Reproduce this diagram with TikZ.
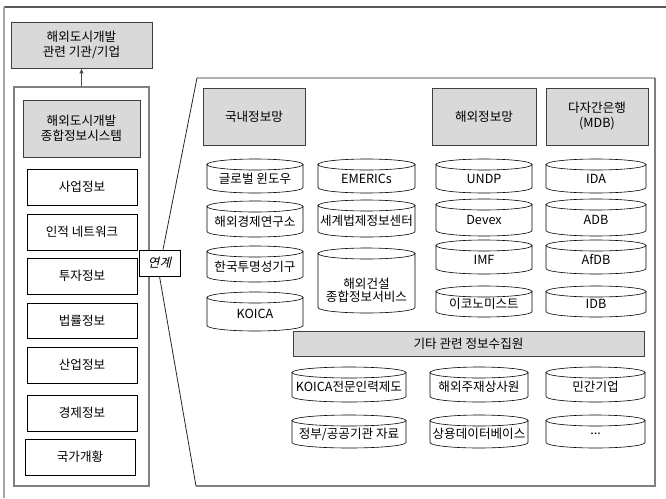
\documentclass[tikz,border=0pt]{standalone}
\usepackage{fontspec}
\setmainfont{Noto Sans CJK KR}
\newfontfamily\slantfont[FakeSlant=0.22]{Noto Sans CJK KR}
\usetikzlibrary{arrows.meta}
\newcommand\bx[7]{\node[#1, minimum width={#5-#3}, minimum height={#6-#4}] (#2) at ({(#3+#5)/2},{(#4+#6)/2}) {#7};}
\newcommand\cyl[6]{%
  \path[cylline] ({#2},{#3+5.5}) -- ({#2},{#5-5.5}) arc[start angle=180,end angle=360,x radius={(#4-#2)/2*1pt},y radius=5.5pt] -- ({#4},{#3+5.5}) -- cycle;
  \path[cylline] ({(#2+#4)/2},{#3+5.5}) ellipse[x radius={(#4-#2)/2*1pt}, y radius=5.5pt];
  \node[cyltext] (#1) at ({(#2+#4)/2},{(#3+#5+5.5)/2}) {#6};}
\begin{document}
\begin{tikzpicture}[x=1pt,y=-1pt, font=\fontsize{12.6}{15}\selectfont,
  box/.style={draw=black, line width=0.7pt, fill=white, inner sep=0pt, align=center},
  graybox/.style={draw=black!75, line width=0.7pt, fill=black!15, inner sep=0pt, align=center},
  panel/.style={draw=black!50, line width=1.1pt, inner sep=0pt},
  cylline/.style={draw=black, line width=0.6pt, fill=white},
  cyltext/.style={inner sep=0pt, align=center}]
\useasboundingbox (0,0) rectangle (666,498);
% outer frame
\coordinate (oTL) at (4,7);
\coordinate (oTR) at (666,7);
\coordinate (oBL) at (4,498);
\draw[black!65, line width=1.1pt] (oTL) -- (oTR);
\draw[black!35, line width=1.4pt] (oTL) -- (oBL);
% top box
\bx{graybox}{top}{11}{22}{152}{68}{해외도시개발\\관련 기관/기업}
% left panel
\bx{panel}{lpanel}{14}{87}{149}{486}{}
\draw[black!70, line width=0.8pt, -{Latex[length=5pt,width=4.5pt]}] (lpanel.north) -- (top.south);
\bx{graybox}{sys}{23}{100}{140}{157}{해외도시개발\\종합정보시스템}
\bx{box}{b1}{27}{169}{137}{205}{사업정보}
\bx{box}{b2}{27}{214}{137}{250}{인적 네트워크}
\bx{box}{b3}{27}{258}{137}{294}{투자정보}
\bx{box}{b4}{27}{303}{137}{338}{법률정보}
\bx{box}{b5}{27}{347}{137}{383}{산업정보}
\bx{box}{b6}{27}{395}{137}{431}{경제정보}
\bx{box}{b7}{25}{439}{135}{475}{국가개황}
% right panel
\coordinate (rpTL) at (197,78);
\coordinate (rpTR) at (655,78);
\coordinate (rpBR) at (655,486);
\coordinate (rpBL) at (196,486);
\draw[panel] (rpBL) -- (rpBR) -- (rpTR);
\bx{box}{link}{139}{250}{180}{276}{\slantfont 연계}
\draw[black!85, line width=0.8pt] (rpTR) -- (rpTL) -- ([xshift=3.5pt]link.north);
\draw[black!85, line width=0.8pt] (link.south) -- (rpBL);
% headers
\bx{graybox}{dom}{203}{88}{305}{145}{국내정보망}
\bx{graybox}{ovs}{432}{88}{536}{145}{해외정보망}
\bx{graybox}{mdb}{546}{88}{648}{145}{다자간은행\\(MDB)}
% column 1
\cyl{c11}{207}{159}{303}{193}{글로벌 윈도우}
\cyl{c12}{207}{201}{303}{237}{해외경제연구소}
\cyl{c13}{207}{246}{303}{282}{한국투명성기구}
\cyl{c14}{207}{292}{303}{331}{KOICA}
% column 2
\cyl{c21}{318}{159}{415}{193}{EMERICs}
\cyl{c22}{318}{200}{415}{237}{세계법제정보센터}
\path[cylline] (318,253.5) -- (318,307.5) arc[start angle=180,end angle=360,x radius=48.5pt,y radius=5.5pt] -- (415,253.5) -- cycle;
\path[cylline] (366.5,253.5) ellipse[x radius=48.5pt, y radius=5.5pt];
\node[cyltext] (c23) at (366.5,290) {해외건설\\[-2pt]종합정보서비스};
% column 3
\cyl{c31}{436}{159}{532}{193}{UNDP}
\cyl{c32}{436}{199}{532}{236}{Devex}
\cyl{c33}{436}{240}{532}{274}{IMF}
\cyl{c34}{436}{286}{532}{317}{이코노미스트}
% column 4
\cyl{c41}{546}{159}{646}{193}{IDA}
\cyl{c42}{546}{199}{646}{236}{ADB}
\cyl{c43}{546}{240}{646}{274}{AfDB}
\cyl{c44}{546}{286}{646}{317}{IDB}
% other sources
\bx{graybox}{etc}{293}{331}{644}{356}{기타 관련 정보수집원}
\cyl{d11}{292}{367}{406}{402}{KOICA전문인력제도}
\cyl{d12}{430}{367}{528}{402}{해외주재상사원}
\cyl{d13}{546}{367}{645}{402}{민간기업}
\cyl{d21}{292}{415}{406}{448}{정부/공공기관 자료}
\cyl{d22}{430}{415}{528}{448}{상용데이터베이스}
\cyl{d23}{546}{415}{645}{448}{...}
\end{tikzpicture}
\end{document}
